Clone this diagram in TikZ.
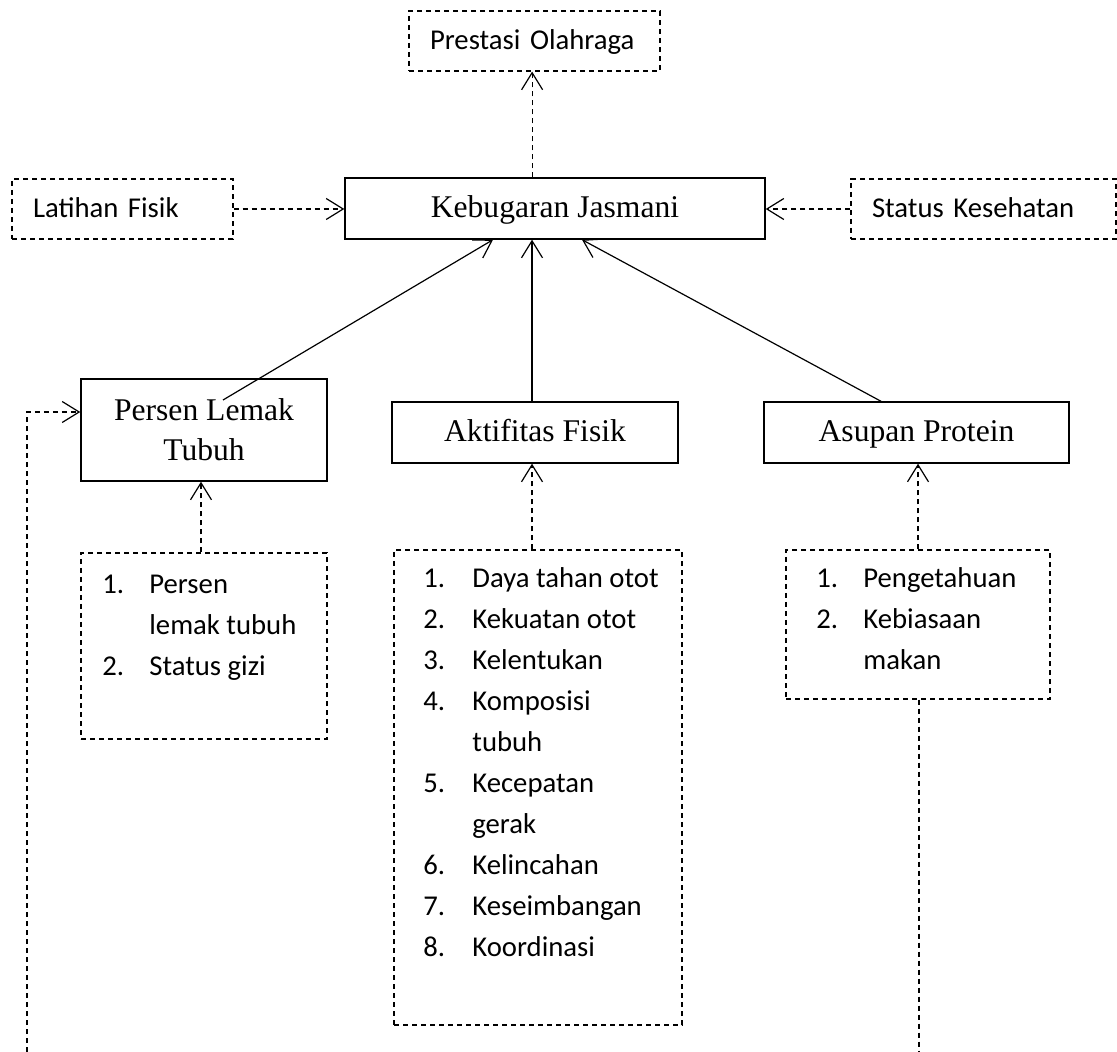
\documentclass[tikz,border=0pt]{standalone}
\usepackage{fontspec}
\setmainfont{Liberation Serif}
\newfontfamily\carlito{Carlito}
\usetikzlibrary{calc,arrows.meta}

\begin{document}
\begin{tikzpicture}[x=0.5pt,y=-0.5pt,
  mainbox/.style={draw,line width=0.7pt,inner sep=0pt,align=center,font=\fontsize{15.8}{20}\selectfont},
  oneline/.style={text height=13pt,text depth=3.5pt},
  sidebox/.style={draw,dash pattern=on 2.6pt off 1.9pt,line width=0.6pt,inner xsep=10.5pt,inner ysep=0pt,align=left,text height=12pt,text depth=3pt,font=\carlito\fontsize{14.35}{17}\selectfont},
  listbox/.style={draw,dash pattern=on 2.6pt off 1.9pt,line width=0.6pt,inner sep=0pt},
  listtext/.style={inner sep=0pt,anchor=base west,font=\carlito\fontsize{14.35}{20.5}\selectfont},
  link/.style={line width=0.6pt,-{Straight Barb[length=8.5pt,width=10.5pt]}},
  dlink/.style={link,dash pattern=on 2.6pt off 1.9pt}]
  \useasboundingbox (0,0) rectangle (1117,1052);

  \node[sidebox,minimum width=125.5pt,minimum height=30pt,text width=104.5pt] (prestasi) at (534.5,41) {Prestasi Olahraga};
  \node[mainbox,oneline,minimum width=210pt,minimum height=30.5pt] (kebugaran) at (555,208.5) {Kebugaran Jasmani};
  \node[sidebox,minimum width=110.5pt,minimum height=30pt,text width=89.5pt] (latihan) at (122.5,209) {Latihan Fisik};
  \node[sidebox,minimum width=132.5pt,minimum height=30pt,text width=111.5pt] (status) at (983.5,209) {Status Kesehatan};
  \node[mainbox,minimum width=123pt,minimum height=51pt] (persen) at (204,430) {Persen Lemak\\Tubuh};
  \node[mainbox,oneline,minimum width=143pt,minimum height=30.5pt] (aktifitas) at (535,432.5) {Aktifitas Fisik};
  \node[mainbox,oneline,minimum width=152.5pt,minimum height=30.5pt] (asupan) at (916.5,432.5) {Asupan Protein};

  % indikator
  \node[listbox,minimum width=123pt,minimum height=93pt] (persenlist) at (204,646) {};
  \node[listtext] (persenitems) at (102,593) {\begin{tabular}[t]{@{}p{23.5pt}@{}l@{}}1.&Persen\\&lemak tubuh\\2.&Status gizi\end{tabular}};
  \node[listbox,minimum width=144pt,minimum height=237.5pt] (aktlist) at (538,787.5) {};
  \node[listtext] (aktitems) at (423,587) {\begin{tabular}[t]{@{}p{24.5pt}@{}l@{}}1.&Daya tahan otot\\2.&Kekuatan otot\\3.&Kelentukan\\4.&Komposisi\\&tubuh\\5.&Kecepatan\\&gerak\\6.&Kelincahan\\7.&Keseimbangan\\8.&Koordinasi\end{tabular}};
  \node[listbox,minimum width=132pt,minimum height=74.5pt] (asuplist) at (918,624.5) {};
  \node[listtext] (asupitems) at (816,587) {\begin{tabular}[t]{@{}p{23.5pt}@{}l@{}}1.&Pengetahuan\\2.&Kebiasaan\\&makan\end{tabular}};

  \coordinate (pl) at (223,400);
  \coordinate (prbot) at ([xshift=-1.2pt]prestasi.south);
  \coordinate (aktop) at ([xshift=-1.5pt]aktifitas.north);
  \coordinate (pltop) at ([xshift=-1.5pt]persenlist.north);
  \coordinate (botleft) at (27,1052);
  \coordinate (botright) at (919,1052);

  \draw[dlink] (kebugaran.north -| prbot) -- (prbot);
  \draw[dlink] (latihan.east) -- (latihan.east -| kebugaran.west);
  \draw[dlink] (status.west) -- (status.west -| kebugaran.east);
  \draw[link] (pl) -- ($(kebugaran.south)+(-62,0)$);
  \draw[link] (aktop) -- (aktop |- kebugaran.south);
  \draw[link] ($(asupan.north)+(-35.5,0)$) -- ($(kebugaran.south)+(27,0)$);
  \draw[dlink] (pltop) -- (pltop |- persen.south);
  \draw[dlink] (aktlist.north -| aktop) -- (aktop |- aktifitas.south);
  \draw[dlink] (asuplist.north) -- (asuplist.north |- asupan.south);
  \draw[line width=0.6pt,dash pattern=on 2.6pt off 1.9pt] (asuplist.south -| botright) -- (botright);
  \draw[dlink] (botleft) |- ($(persen.west)+(0,-18)$);
\end{tikzpicture}
\end{document}
